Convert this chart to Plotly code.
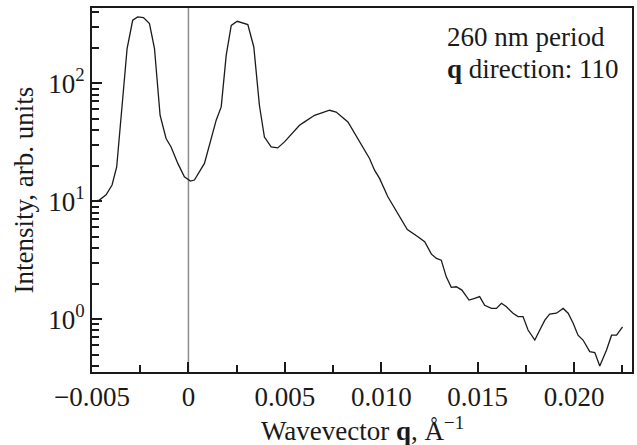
import plotly.graph_objects as go

# Wavevector q (in units of 1e-3 Å^-1) and intensity (arb. units)
q_milli = [-5.00, -4.62, -4.27, -3.96, -3.72, -3.49, -3.18, -2.89, -2.63, -2.33,
           -2.02, -1.76, -1.47, -1.16, -0.90, -0.55, -0.21, 0.10, 0.31, 0.83,
           1.18, 1.44, 1.70, 1.96, 2.22, 2.53, 3.08, 3.39, 3.68, 3.94,
           4.29, 4.63, 4.98, 5.50, 5.76, 6.02, 6.54, 7.32, 7.66, 8.27,
           8.79, 9.39, 9.65, 9.91, 10.34, 10.95, 11.15, 11.35, 11.90, 12.25,
           12.60, 12.86, 13.11, 13.37, 13.63, 13.89, 14.18, 14.55, 14.84, 15.10,
           15.36, 15.71, 15.97, 16.23, 16.49, 16.83, 17.09, 17.35, 17.61, 17.96,
           18.22, 18.48, 18.73, 19.08, 19.43, 19.69, 19.95, 20.20, 20.46, 20.81,
           21.07, 21.33, 21.68, 21.94, 22.20, 22.51]
intensity = [9.9, 10.2, 11.3, 13.7, 19.5, 53.5, 197, 342, 365, 360,
             320, 197, 53.5, 34, 28.8, 20.9, 16.1, 14.8, 15.1, 20.9,
             34, 48.6, 63, 173, 309, 335, 314, 203, 65, 35,
             28.8, 28.3, 31.8, 39.2, 44, 47, 53.5, 59, 57, 47,
             34, 23, 18.3, 15.6, 10.9, 7.36, 6.4, 5.75, 4.98, 4.52,
             3.55, 3.27, 3.16, 2.28, 1.86, 1.88, 1.76, 1.45, 1.50, 1.55,
             1.31, 1.23, 1.23, 1.36, 1.27, 1.12, 1.05, 1.05, 0.807, 0.664,
             0.807, 0.98, 1.10, 1.12, 1.23, 1.12, 0.92, 0.73, 0.664, 0.53,
             0.52, 0.40, 0.546, 0.73, 0.73, 0.86]
q = [v * 1e-3 for v in q_milli]

x_tickvals = [-0.005, 0, 0.005, 0.010, 0.015, 0.020]
x_ticktext = ["\u22120.005", "0", "0.005", "0.010", "0.015", "0.020"]
x_minor = [-0.0025, 0.0025, 0.0075, 0.0125, 0.0175, 0.0225]
y_tickvals = [1, 10, 100]
y_ticktext = ["10<sup>0</sup>", "10<sup>1</sup>", "10<sup>2</sup>"]
y_minor = [0.4, 0.5, 0.6, 0.7, 0.8, 0.9, 2, 3, 4, 5, 6, 7, 8, 9,
           20, 30, 40, 50, 60, 70, 80, 90, 200, 300, 400]

FONT = "Liberation Serif, Times New Roman, serif"
FS = 27

fig = go.Figure()
fig.add_trace(go.Scatter(x=q, y=intensity, mode="lines",
                         line=dict(color="#1a1a1a", width=1.3),
                         showlegend=False, hoverinfo="skip"))

fig.add_shape(type="line", xref="x", yref="paper", x0=0, x1=0, y0=0, y1=1,
              line=dict(color="#8c8c8c", width=1.5), layer="below")

fig.update_layout(
    width=637, height=445,
    margin=dict(l=92, r=5, t=8, b=73, autoexpand=False),
    paper_bgcolor="white", plot_bgcolor="white",
    font=dict(family=FONT, size=FS, color="#1a1a1a"),
    xaxis=dict(range=[-0.005, 0.023], showgrid=False, zeroline=False, automargin=False,
               showline=True, linecolor="#1a1a1a", linewidth=2, mirror=True,
               tickmode="array", tickvals=x_tickvals, ticktext=x_ticktext,
               ticks="inside", ticklen=10, tickwidth=2, tickcolor="#1a1a1a",
               minor=dict(tickmode="array", tickvals=x_minor, ticks="inside",
                          ticklen=7, tickwidth=2, tickcolor="#1a1a1a", showgrid=False),
               tickfont=dict(family=FONT, size=FS)),
    yaxis=dict(type="log", range=[-0.449, 2.638], showgrid=False, zeroline=False, automargin=False,
               showline=True, linecolor="#1a1a1a", linewidth=2, mirror=True,
               tickmode="array", tickvals=y_tickvals, ticktext=y_ticktext,
               ticks="inside", ticklen=10, tickwidth=2, tickcolor="#1a1a1a",
               minor=dict(tickmode="array", tickvals=y_minor, ticks="inside",
                          ticklen=7, tickwidth=2, tickcolor="#1a1a1a", showgrid=False),
               tickfont=dict(family=FONT, size=FS)),
    annotations=[
        dict(text="260 nm period", xref="paper", yref="paper",
             x=(445 - 92.5) / 539.5, y=(372 - 37) / 364, xanchor="left", yanchor="middle",
             showarrow=False, font=dict(family=FONT, size=FS)),
        dict(text="<b>q</b> direction: 110", xref="paper", yref="paper",
             x=(445 - 92.5) / 539.5, y=(372 - 69) / 364, xanchor="left", yanchor="middle",
             showarrow=False, font=dict(family=FONT, size=FS)),
        dict(text="Wavevector <b>q</b>, \u00c5<sup>\u22121</sup>", xref="paper", yref="paper",
             x=0.5, y=(372 - 429) / 364, xanchor="center", yanchor="middle",
             showarrow=False, font=dict(family=FONT, size=FS)),
        dict(text="Intensity, arb. units", xref="paper", yref="paper",
             x=(25 - 92.5) / 539.5, y=0.5, xanchor="center", yanchor="middle",
             textangle=-90, showarrow=False, font=dict(family=FONT, size=FS)),
    ],
)

fig.write_html("out.html", config={"displayModeBar": False},
               post_script="document.body.style.margin='0';")
